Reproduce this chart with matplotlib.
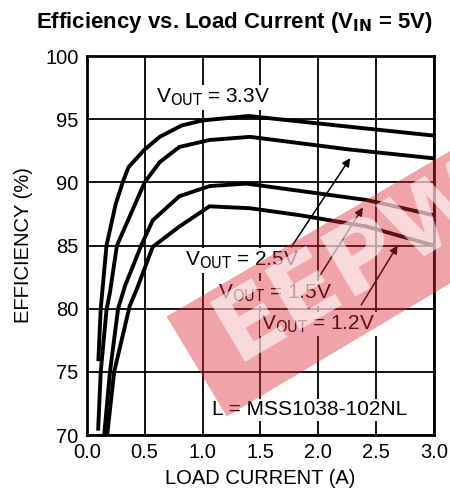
import matplotlib
matplotlib.use('Agg')
import matplotlib.pyplot as plt
from matplotlib.patches import Polygon

plt.rcParams['font.family'] = ['Liberation Sans', 'DejaVu Sans']

# --- data (A, %) ---
i_33 = [0.10, 0.12, 0.14, 0.17, 0.25, 0.31, 0.36, 0.50, 0.63, 0.82, 1.00, 1.40, 2.27, 3.00]
e_33 = [76.0, 80.0, 82.0, 85.0, 88.3, 90.0, 91.2, 92.6, 93.6, 94.5, 94.9, 95.25, 94.4, 93.7]

i_25 = [0.098, 0.12, 0.17, 0.20, 0.26, 0.50, 0.63, 0.80, 1.06, 1.41, 2.27, 3.00]
e_25 = [70.5, 75.0, 79.9, 81.3, 85.0, 90.0, 91.6, 92.8, 93.35, 93.6, 92.6, 91.9]

i_15 = [0.15, 0.20, 0.27, 0.33, 0.47, 0.57, 0.80, 1.06, 1.38, 2.42, 3.00]
e_15 = [70.0, 75.0, 80.0, 81.8, 85.0, 87.0, 88.9, 89.7, 89.9, 88.6, 87.4]

i_12 = [0.17, 0.236, 0.37, 0.43, 0.57, 0.80, 1.06, 1.41, 1.84, 2.42, 3.00]
e_12 = [69.5, 75.0, 80.2, 81.5, 84.9, 86.5, 88.1, 87.95, 87.4, 86.5, 85.0]

x_ticks = [0.0, 0.5, 1.0, 1.5, 2.0, 2.5, 3.0]
y_ticks = [70, 75, 80, 85, 90, 95, 100]

fig = plt.figure(figsize=(4.5, 5.0), dpi=100)
ax = fig.add_axes([0.193, 0.13, 0.771, 0.758])

for xs, ys in [(i_33, e_33), (i_25, e_25), (i_15, e_15), (i_12, e_12)]:
    ax.plot(xs, ys, color='black', lw=2.8, solid_joinstyle='miter', zorder=3)

ax.set_xlim(0, 3.0)
ax.set_ylim(70, 100)
ax.set_xticks(x_ticks)
ax.set_yticks(y_ticks)
ax.set_xticklabels(['%.1f' % v for v in x_ticks])
ax.grid(True, color='black', lw=1.3, zorder=0)
ax.set_axisbelow(True)
for s in ax.spines.values():
    s.set_linewidth(2)
ax.tick_params(length=0, labelsize=14.5, pad=6)

ax.set_xlabel('LOAD CURRENT (A)', fontsize=14.5, labelpad=5)
ax.set_ylabel('EFFICIENCY (%)', fontsize=14.5, labelpad=9)
fig.text(0.52, 0.955, r'Efficiency vs. Load Current (V$_{\mathbf{IN}}$ = 5V)',
         fontsize=16, fontweight='bold', ha='center', va='center')

# label kurva (kotak putih biar grid putus seperti aslinya)
kotak = dict(facecolor='white', edgecolor='none', pad=1)
lab = dict(fontsize=15, zorder=4, va='center', bbox=kotak)
ax.text(0.60, 96.7, r'V$_{\mathrm{OUT}}$ = 3.3V', **lab)
ax.text(0.85, 83.8, r'V$_{\mathrm{OUT}}$ = 2.5V', **lab)
ax.text(1.13, 81.2, r'V$_{\mathrm{OUT}}$ = 1.5V', **lab)
ax.text(1.51, 78.8, r'V$_{\mathrm{OUT}}$ = 1.2V', **lab)
ax.text(1.08, 72.0, 'L = MSS1038-102NL', **lab)

arr = dict(arrowstyle='-|>', color='black', lw=1.1, mutation_scale=12)
ax.annotate('', xy=(2.29, 92.1), xytext=(1.755, 84.7), arrowprops=arr, zorder=4)
ax.annotate('', xy=(2.40, 88.2), xytext=(2.00, 82.4), arrowprops=arr, zorder=4)
ax.annotate('', xy=(2.70, 85.2), xytext=(2.36, 80.1), arrowprops=arr, zorder=4)

# watermark: pita merah miring dengan huruf putih
pita = Polygon([(0.370, 0.367), (0.504, 0.167), (1.16, 0.519), (1.16, 0.782)],
               closed=True, transform=fig.transFigure, facecolor='#dc2832',
               edgecolor='none', alpha=0.42, zorder=10)
fig.patches.append(pita)
fig.text(0.785, 0.475, 'EEPW', fontsize=68, fontweight='bold', family='DejaVu Sans',
         color='white', alpha=0.6, rotation=30.5, ha='center', va='center', zorder=11)

fig.savefig('out.png', dpi=100)
